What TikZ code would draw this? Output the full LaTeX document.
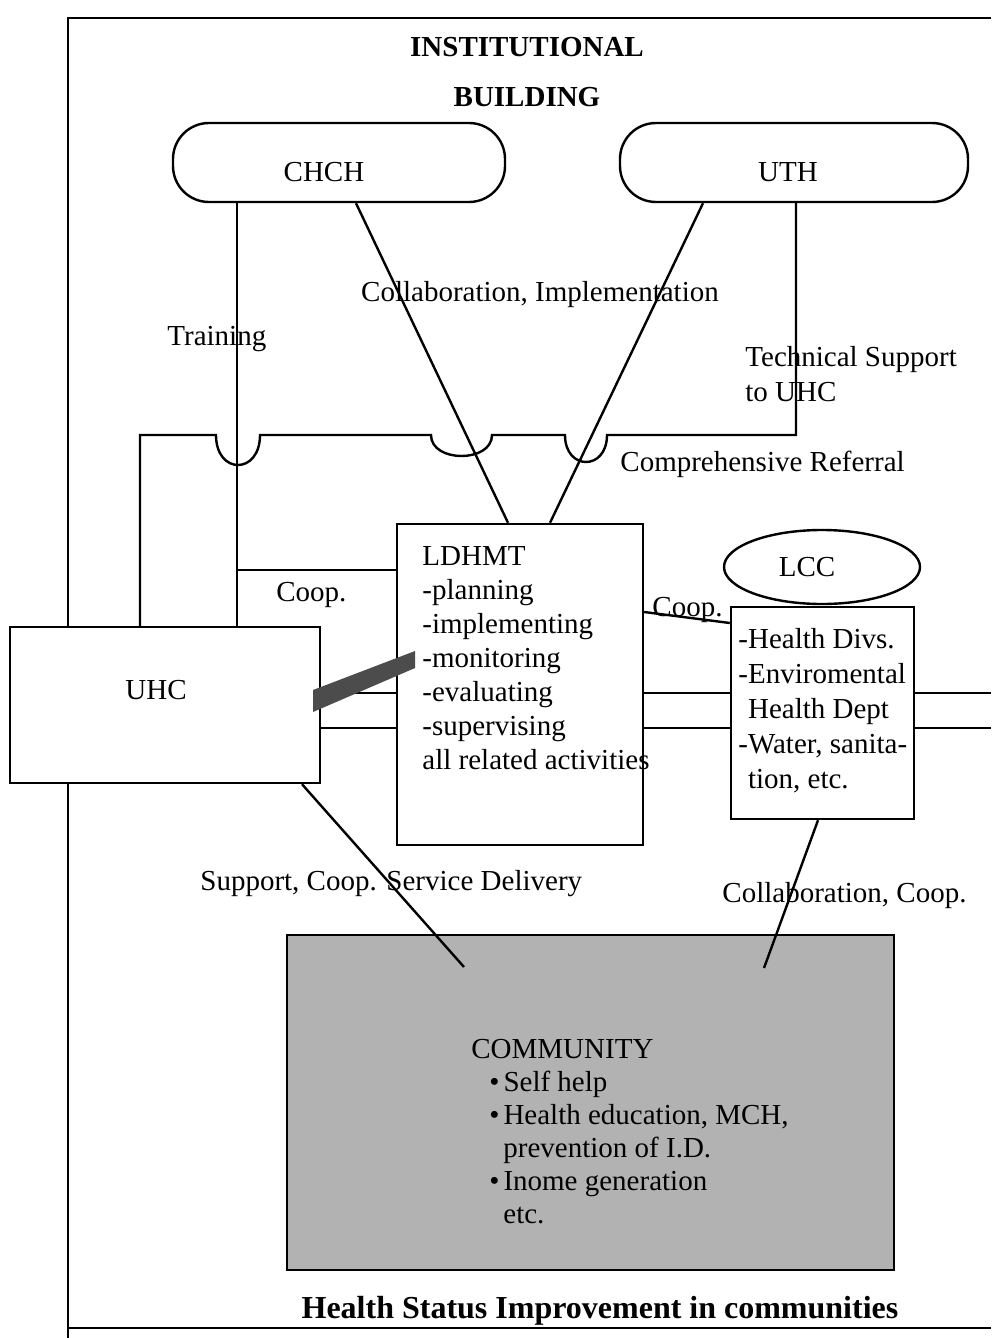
\documentclass[tikz,border=0pt]{standalone}
\usepackage{fontspec}
\setmainfont{Liberation Serif}
\usetikzlibrary{calc,shapes.geometric}
\begin{document}
\begin{tikzpicture}[x=0.5pt,y=-0.5pt,
  every node/.style={font=\fontsize{14.5}{17}\selectfont, inner sep=0pt},
  ln/.style={line width=1.2pt},
  box/.style={draw, line width=1.2pt, fill=white, rectangle, inner sep=0pt},
  pill/.style={draw, line width=1.2pt, rounded corners=18pt, inner sep=0pt, fill=white},
  lbl/.style={anchor=base west},
  titletext/.style={font=\fontsize{14.5}{17}\selectfont\bfseries, anchor=base}]
\useasboundingbox (0,0) rectangle (991,1338);
% frame
\draw[line width=1.4pt] (68,1338) -- (68,18) -- (991,18);
\draw[line width=1pt] (68,1328) -- (991,1328);
% titles
\node[titletext] (t1) at (527,57) {INSTITUTIONAL};
\node[titletext] (t2) at (527,106) {BUILDING};
\node[titletext, font=\fontsize{16}{19}\selectfont\bfseries] (t3) at (600,1318) {Health Status Improvement in communities};
% community
\node[box, fill=black!30, minimum width=303.5pt, minimum height=167.5pt] (comm) at (590.5,1102.5) {};
\node[anchor=north west, align=left, font=\fontsize{14.5}{16.5}\selectfont] (commtext) at (471,1039)
  {COMMUNITY\\
   \hspace*{9pt}\textbullet\hspace{2pt}Self help\\
   \hspace*{9pt}\textbullet\hspace{2pt}Health education, MCH,\\
   \hspace*{16pt}prevention of I.D.\\
   \hspace*{9pt}\textbullet\hspace{2pt}Inome generation\\
   \hspace*{16pt}etc.};
% top pills
\node[pill, minimum width=166pt, minimum height=39.5pt] (chch) at (339,162.5) {};
\node (chchtext) at (324,172) {CHCH};
\node[pill, minimum width=174pt, minimum height=39.5pt] (uth) at (794,162.5) {};
\node (uthtext) at (788,172) {UTH};
% boxes
\node[box, minimum width=155pt, minimum height=78pt] (uhc) at (165,705) {};
\node (uhctext) at (156,690) {UHC};
\node[box, minimum width=123pt, minimum height=160.5pt] (ldhmt) at (520,684.5) {};
\node[anchor=north west, align=left] (ldtext) at (422,546)
  {LDHMT\\-planning\\-implementing\\-monitoring\\-evaluating\\-supervising\\all related activities};
\node[draw, ellipse, line width=1.2pt, minimum width=98pt, minimum height=37pt] (lcc) at (822,567) {};
\node (lcctext) at (807,567) {LCC};
\node[box, minimum width=91.5pt, minimum height=106pt] (lccbox) at (822.5,713) {};
\node[anchor=north west, align=left, font=\fontsize{14.5}{17.5}\selectfont] (lcctxt) at (738,628)
  {-Health Divs.\\-Enviromental\\\hphantom{-}Health Dept\\-Water, sanita-\\\hphantom{-}tion, etc.};
% helper coordinates
\coordinate (xtrain) at (237,0);
\coordinate (ycoop) at (0,570);
\coordinate (c1) at (356,0);
\coordinate (c2) at (508,0);
\coordinate (u1) at (703,0);
\coordinate (u2) at (550,0);
\coordinate (xref) at (140,0);
\coordinate (yref) at (0,435);
\coordinate (xtech) at (796,0);
\coordinate (yc1) at (0,612);
\coordinate (yc2) at (0,623);
\coordinate (ya) at (0,693);
\coordinate (yb) at (0,728);
\coordinate (xr) at (991,0);
\coordinate (s1) at (302,0);
\coordinate (e1) at (464,967);
\coordinate (s2) at (818,0);
\coordinate (e2) at (764,968);
% connectors
\draw[ln] (chch.south -| xtrain) -- (uhc.north -| xtrain);
\draw[ln] (xtrain |- ycoop) -- (ldhmt.west |- ycoop);
\draw[ln] (chch.south -| c1) -- (ldhmt.north -| c2);
\draw[ln] (uth.south -| u1) -- (ldhmt.north -| u2);
\draw[ln] (uhc.north -| xref) -- (xref |- yref) -- (216,435)
  .. controls (216,475) and (260,475) .. (260,435) -- (431,435)
  .. controls (431,463) and (492,463) .. (492,435) -- (565,435)
  .. controls (565,471) and (607,471) .. (607,435) -- (xtech |- yref) -- (uth.south -| xtech);
\draw[ln] (ldhmt.east |- yc1) -- (lccbox.west |- yc2);
\draw[ln] (uhc.east |- ya) -- (ldhmt.west |- ya);
\draw[ln] (uhc.east |- yb) -- (ldhmt.west |- yb);
\draw[ln] (ldhmt.east |- ya) -- (lccbox.west |- ya);
\draw[ln] (ldhmt.east |- yb) -- (lccbox.west |- yb);
\draw[ln] (lccbox.east |- ya) -- (xr |- ya);
\draw[ln] (lccbox.east |- yb) -- (xr |- yb);
\draw[ln] (uhc.south -| s1) -- (e1);
\draw[ln] (lccbox.south -| s2) -- (e2);
% shaded band
\fill[black!70] (313,690) -- (415,651) -- (415,668) -- (313,712) -- cycle;
% labels
\node[lbl] (ltrain) at (167,345) {Training};
\node[anchor=base] (lci) at (540,301) {Collaboration, Implementation};
\node[lbl] (lts1) at (745,366) {Technical Support};
\node[lbl] (lts2) at (745,401) {to UHC};
\node[lbl] (lcr) at (620,471) {Comprehensive Referral};
\node[lbl] (lcoop1) at (276,601) {Coop.};
\node[lbl] (lcoop2) at (652,616) {Coop.};
\node[lbl] (lsup) at (200,890) {Support, Coop. Service Delivery};
\node[lbl] (lcol) at (722,902) {Collaboration, Coop.};
\end{tikzpicture}
\end{document}
